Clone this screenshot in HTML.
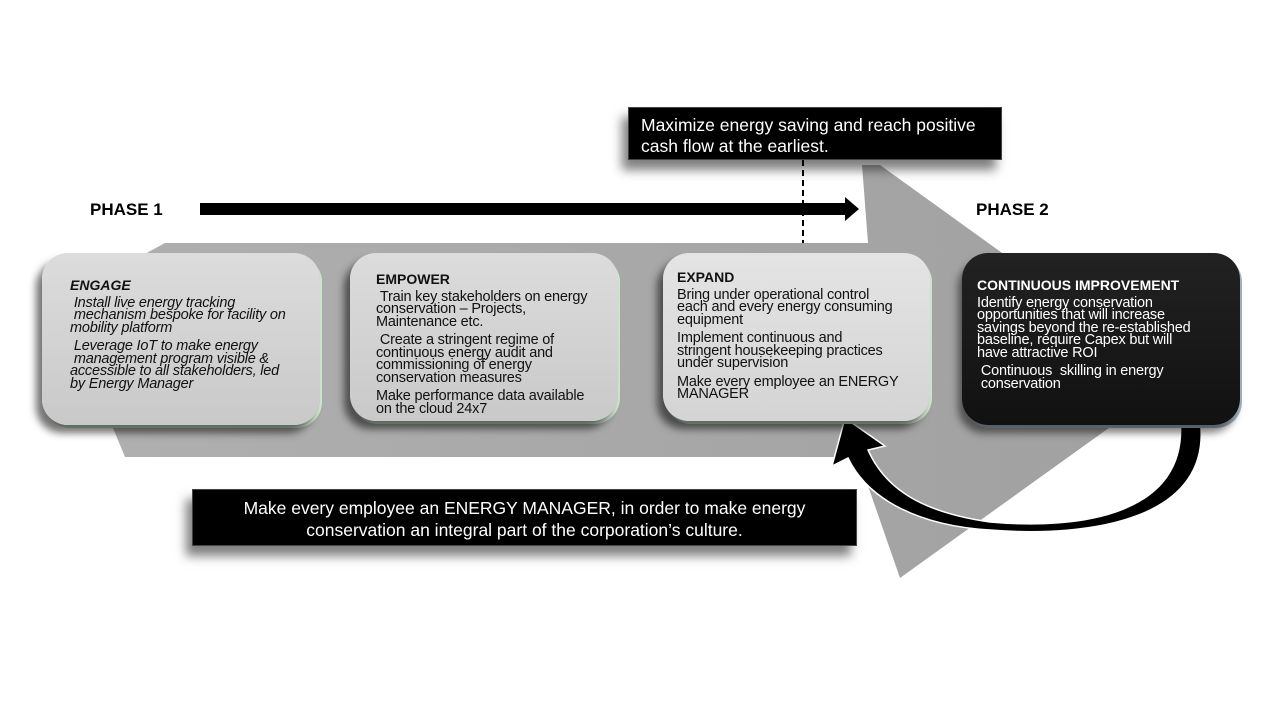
<!DOCTYPE html>
<html><head><style>
body{margin:0;width:1280px;height:720px;background:#fff;position:relative;overflow:hidden;font-family:"Liberation Sans",Arial,sans-serif}
.abs{position:absolute}
.box{position:absolute;border-radius:26px;box-sizing:border-box;font-size:14.5px;line-height:12.5px;color:#111;letter-spacing:-0.2px}
.lt{background:linear-gradient(180deg,#dcdcdc,#c9c9c9);box-shadow:-6px 8px 8px rgba(0,0,0,.55), 2px 3px 0 #cfe8cf}
.box b{display:block;font-size:14px;margin-bottom:5px;letter-spacing:0}
.box p{margin:0 0 6px 0}
.blk{position:absolute;background:#000;color:#fff;box-shadow:-6px 10px 10px rgba(0,0,0,.5);border:1px solid #444}
</style></head><body>
<svg class="abs" style="left:0;top:0" width="1280" height="720">
<defs><linearGradient id="g" x1="0" x2="1" y1="0" y2="0"><stop offset="0" stop-color="#b0b0b0"/><stop offset="1" stop-color="#a0a0a0"/></linearGradient></defs>
<polygon points="165,243 868,243 862,165 880,165 1177,379 900,578 858,457 125,457 60,300" fill="url(#g)"/>
<line x1="803" y1="160" x2="803" y2="243" stroke="#000" stroke-width="2" stroke-dasharray="6,4"/>
<rect x="200" y="203" width="645" height="12" fill="#000"/>
<polygon points="845,197 859,209 845,221" fill="#000"/>
<path d="M1180,418 C1190,515 1080,530 990,522 C920,512 885,488 868,450 L885,446 L845,418 L832,466 L848,458 C868,500 920,526 990,530 C1090,538 1215,520 1200,418 Z" fill="#000" stroke="#fff" stroke-width="1.5"/>
</svg>
<div class="abs" style="left:90px;top:200px;font-weight:bold;font-size:17px">PHASE 1</div>
<div class="abs" style="left:976px;top:200px;font-weight:bold;font-size:17px">PHASE 2</div>
<div class="blk" style="left:628px;top:107px;width:374px;height:53px;font-size:17.5px;line-height:21px;padding:7px 0 0 12px;box-sizing:border-box">Maximize energy saving and reach positive<br>cash flow at the earliest.</div>
<div class="box lt" style="left:42px;top:253px;width:278px;height:172px;padding:26px 0 0 28px;font-style:italic"><b>ENGAGE</b><p>&nbsp;Install live energy tracking<br>&nbsp;mechanism bespoke for facility on<br>mobility platform</p><p>&nbsp;Leverage IoT to make energy<br>&nbsp;management program visible &amp;<br>accessible to all stakeholders, led<br>by Energy Manager</p></div>
<div class="box lt" style="left:350px;top:253px;width:268px;height:168px;padding:20px 0 0 26px"><b>EMPOWER</b><p>&nbsp;Train key stakeholders on energy<br>conservation – Projects,<br>Maintenance etc.</p><p>&nbsp;Create a stringent regime of<br>continuous energy audit and<br>commissioning of energy<br>conservation measures</p><p>Make performance data available<br>on the cloud 24x7</p></div>
<div class="box lt" style="left:663px;top:253px;width:267px;height:168px;padding:18px 0 0 14px;background:linear-gradient(180deg,#e4e4e4,#d4d4d4)"><b>EXPAND</b><p>Bring under operational control<br>each and every energy consuming<br>equipment</p><p>Implement continuous and<br>stringent housekeeping practices<br>under supervision</p><p>Make every employee an ENERGY<br>MANAGER</p></div>
<div class="box" style="left:962px;top:253px;width:278px;height:172px;padding:26px 0 0 15px;background:linear-gradient(180deg,#222,#111);color:#fff;box-shadow:-4px 8px 8px rgba(0,0,0,.5), 2px 3px 0 #a8b8c8"><b>CONTINUOUS IMPROVEMENT</b><p>Identify energy conservation<br>opportunities that will increase<br>savings beyond the re-established<br>baseline, require Capex but will<br>have attractive ROI</p><p>&nbsp;Continuous &nbsp;skilling in energy<br>&nbsp;conservation</p></div>
<div class="blk" style="left:192px;top:489px;width:665px;height:57px;font-size:17.5px;line-height:22px;padding:7px 0 0 0;box-sizing:border-box;text-align:center">Make every employee an ENERGY MANAGER, in order to make energy<br>conservation an integral part of the corporation’s culture.</div>
</body></html>
